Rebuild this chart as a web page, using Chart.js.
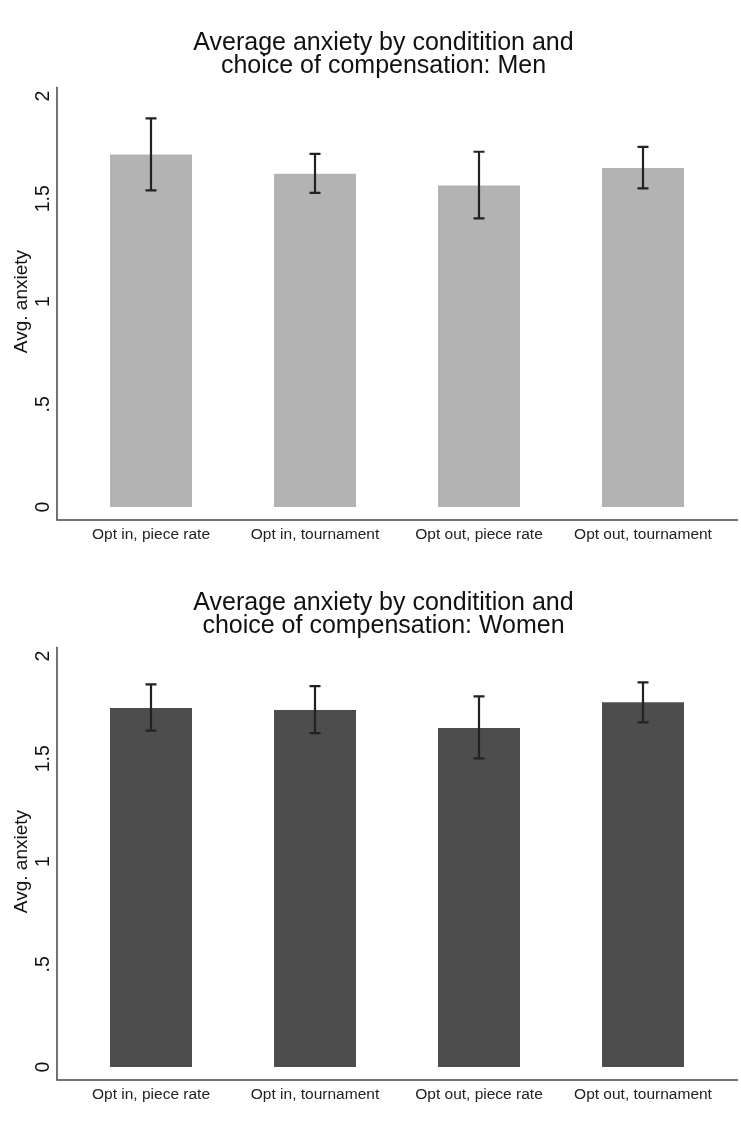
<!DOCTYPE html>
<html>
<head>
<meta charset="utf-8">
<script src="https://cdn.jsdelivr.net/npm/chart.js@4.4.0/dist/chart.umd.min.js"></script>
<style>
  body { margin: 0; background: #fff; }
  canvas { display: block; }
</style>
</head>
<body>
<canvas id="men" width="741" height="560"></canvas>
<canvas id="women" width="741" height="561"></canvas>
<script>
// categories on the x axis
const categories = ['Opt in, piece rate', 'Opt in, tournament', 'Opt out, piece rate', 'Opt out, tournament'];
// y ticks, Stata style labels
const yTicks = [0, 0.5, 1, 1.5, 2];
const yTickLabels = ['0', '.5', '1', '1.5', '2'];

// Men: mean anxiety and CI bounds
const menMeans = [1.716, 1.622, 1.565, 1.650];
const menLow = [1.541, 1.529, 1.405, 1.551];
const menHigh = [1.891, 1.719, 1.729, 1.753];

// Women: mean anxiety and CI bounds
const womenMeans = [1.747, 1.737, 1.650, 1.775];
const womenLow = [1.637, 1.625, 1.502, 1.677];
const womenHigh = [1.862, 1.854, 1.804, 1.872];

const FONT = '"Liberation Sans", Arial, sans-serif';

// draws error bars, Stata-like axis lines, rotated y labels and the y title
const stataPlugin = {
  id: 'stata',
  afterDatasetsDraw(chart, args, opts) {
    const ctx = chart.ctx;
    const area = chart.chartArea;
    const y = chart.scales.y;
    const meta = chart.getDatasetMeta(0);
    ctx.save();

    // error bars
    ctx.strokeStyle = '#222';
    ctx.lineWidth = 2.2;
    meta.data.forEach((bar, i) => {
      const top = y.getPixelForValue(opts.high[i]);
      const bot = y.getPixelForValue(opts.low[i]);
      ctx.beginPath();
      ctx.moveTo(bar.x, top);
      ctx.lineTo(bar.x, bot);
      ctx.moveTo(bar.x - 5.5, top);
      ctx.lineTo(bar.x + 5.5, top);
      ctx.moveTo(bar.x - 5.5, bot);
      ctx.lineTo(bar.x + 5.5, bot);
      ctx.stroke();
    });

    // axis lines, set off from the plot like Stata
    const axisX = area.left - 12;
    ctx.strokeStyle = '#444';
    ctx.lineWidth = 1.5;
    ctx.beginPath();
    ctx.moveTo(axisX, area.top);
    ctx.lineTo(axisX, area.bottom);
    ctx.lineTo(area.right + 13, area.bottom);
    ctx.stroke();

    // y tick labels, rotated
    ctx.fillStyle = '#111';
    ctx.font = '19.5px ' + FONT;
    ctx.textAlign = 'center';
    ctx.textBaseline = 'middle';
    yTicks.forEach((v, i) => {
      ctx.save();
      ctx.translate(axisX - 13.5, y.getPixelForValue(v));
      ctx.rotate(-Math.PI / 2);
      ctx.fillText(yTickLabels[i], 0, 0);
      ctx.restore();
    });

    // y axis title
    ctx.font = '19px ' + FONT;
    ctx.save();
    ctx.translate(22, y.getPixelForValue((yTicks[0] + yTicks[yTicks.length - 1]) / 2));
    ctx.rotate(-Math.PI / 2);
    ctx.fillText('Avg. anxiety', 0, 0);
    ctx.restore();

    ctx.restore();
  }
};

function makeChart(id, titleLines, means, low, high, color, xHeight) {
  return new Chart(document.getElementById(id), {
    type: 'bar',
    data: {
      labels: categories,
      datasets: [{
        data: means,
        backgroundColor: color,
        borderWidth: 0,
        barPercentage: 0.5,
        categoryPercentage: 1.0
      }]
    },
    plugins: [stataPlugin],
    options: {
      responsive: false,
      animation: false,
      layout: { padding: { left: 42, right: 16, top: 0, bottom: 0 } },
      plugins: {
        legend: { display: false },
        tooltip: { enabled: false },
        title: {
          display: true,
          text: titleLines,
          color: '#111',
          font: { family: FONT, size: 25, weight: 'normal', lineHeight: 0.93 },
          padding: { top: 31.4, bottom: 8.9 }
        },
        stata: { low: low, high: high }
      },
      scales: {
        x: {
          grid: { display: false, drawTicks: false },
          border: { display: false },
          ticks: {
            color: '#222',
            font: { family: FONT, size: 15.5 },
            padding: 5,
            maxRotation: 0,
            autoSkip: false
          },
          afterFit: (scale) => { scale.height = xHeight; }
        },
        y: {
          min: -0.063,
          max: 2.045,
          grid: { display: false, drawTicks: false },
          border: { display: false },
          ticks: { display: false },
          afterBuildTicks: (axis) => { axis.ticks = yTicks.map(v => ({ value: v })); },
          afterFit: (scale) => { scale.width = 27; }
        }
      }
    }
  });
}

makeChart('men', ['Average anxiety by conditition and', 'choice of compensation: Men'],
  menMeans, menLow, menHigh, '#b3b3b3', 40);
makeChart('women', ['Average anxiety by conditition and', 'choice of compensation: Women'],
  womenMeans, womenLow, womenHigh, '#4d4d4d', 41);
</script>
</body>
</html>
